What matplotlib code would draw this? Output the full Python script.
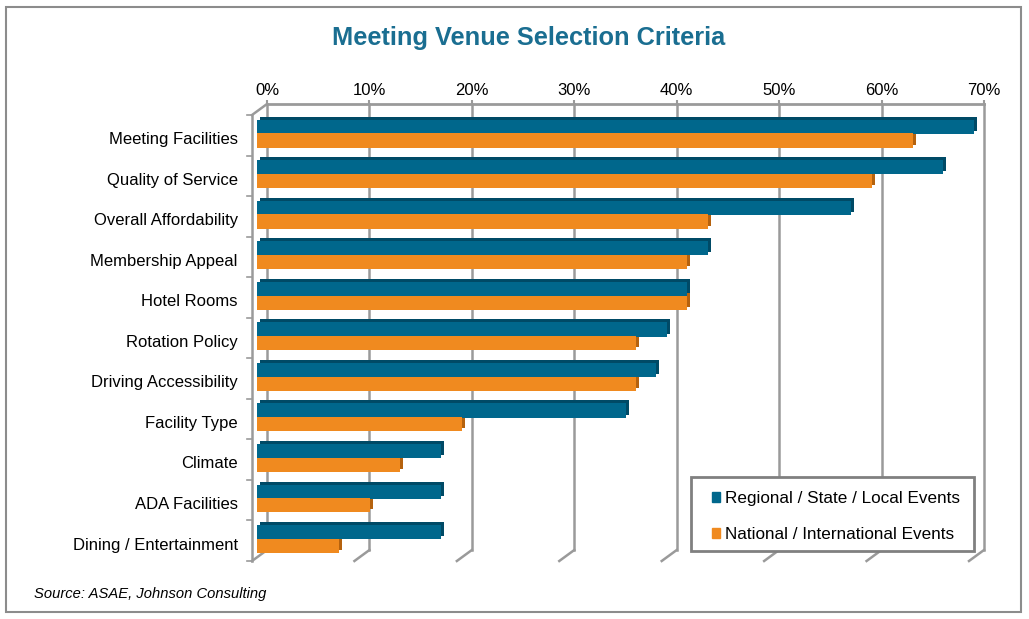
import numpy as np
import matplotlib.pyplot as plt
from matplotlib.patches import Rectangle, Patch

plt.rcParams['font.family'] = ['Liberation Sans', 'DejaVu Sans']

categories = ["Meeting Facilities", "Quality of Service", "Overall Affordability",
              "Membership Appeal", "Hotel Rooms", "Rotation Policy",
              "Driving Accessibility", "Facility Type", "Climate",
              "ADA Facilities", "Dining / Entertainment"]
regional = [70, 67, 58, 44, 42, 40, 39, 36, 18, 18, 18]
national = [64, 60, 44, 42, 42, 37, 37, 20, 14, 11, 8]
series_names = ["Regional / State / Local Events", "National / International Events"]
xticks = [0, 10, 20, 30, 40, 50, 60, 70]

BLUE, BLUE_DK = "#00678c", "#004a66"
ORANGE, ORANGE_DK = "#f08a1f", "#b5620e"
GRID = "#9a9a9a"

W, H = 1029, 619
fig = plt.figure(figsize=(W / 100, H / 100), dpi=100)

# back wall of the fake 3d plot
ax = fig.add_axes([267 / W, 1 - 550 / H, 717 / W, 446 / H])
ax.set_xlim(0, 70)
ax.set_ylim(10.5, -0.5)

px_x = 717 / 70.0      # pixels per percent
px_y = 446 / 11.0      # pixels per category
dep_x, dep_y = 15 / px_x, 11 / px_y   # depth of the floor / left wall

y = np.arange(len(categories))
y_blue = y + 0.06
y_orng = y + 0.40
h = 0.35
shift = 10 / px_x
sx, sy = 3 / px_x, 3 / px_y

# gridlines on back wall + slanted bits on the floor
for v in xticks:
    ax.plot([v, v], [-0.5, 10.5], color=GRID, lw=1.8, zorder=1, clip_on=False)
    ax.plot([v, v - dep_x], [10.5, 10.5 + dep_y], color=GRID, lw=1.8, zorder=1, clip_on=False)

# left front wall line with small ticks
xf = -dep_x
ax.plot([0, xf], [-0.5, -0.5 + dep_y], color=GRID, lw=1.8, clip_on=False)
ax.plot([xf, xf], [-0.5 + dep_y, 10.5 + dep_y], color=GRID, lw=1.8, clip_on=False)
for k in range(len(categories) + 1):
    yy = k - 0.5 + dep_y
    ax.plot([xf, xf - 5 / px_x], [yy, yy], color=GRID, lw=1.2, clip_on=False)

# dark side/top faces first, then fronts
ax.barh(y_blue - sy, regional, left=-shift + sx, height=h, color=BLUE_DK, zorder=2, clip_on=False)
ax.barh(y_orng - sy, national, left=-shift + sx, height=h, color=ORANGE_DK, zorder=2, clip_on=False)
ax.barh(y_blue, regional, left=-shift, height=h, color=BLUE, zorder=3, clip_on=False)
ax.barh(y_orng, national, left=-shift, height=h, color=ORANGE, zorder=3, clip_on=False)

for s in ["left", "right", "bottom"]:
    ax.spines[s].set_visible(False)
ax.spines["top"].set_color(GRID)
ax.spines["top"].set_linewidth(2)

ax.xaxis.tick_top()
ax.set_xticks(xticks, labels=[f"{v}%" for v in xticks])
ax.tick_params(axis="x", length=3, width=1.5, color=GRID, pad=1.5, labelsize=12)
ax.set_yticks(y + 0.34, labels=categories)
ax.tick_params(axis="y", length=0, pad=21, labelsize=12)

# legend box drawn by hand, legend itself without frame
fig.add_artist(Rectangle((691 / W, 1 - 551 / H), 283 / W, 74 / H, transform=fig.transFigure,
                         facecolor="white", edgecolor="#808080", lw=2, zorder=5))
handles = [Patch(color=BLUE), Patch(color=ORANGE)]
leg = fig.legend(handles, series_names, loc="center left",
                 bbox_to_anchor=(712 / W, 1 - 516.5 / H), fontsize=12.3,
                 handlelength=0.48, handleheight=0.48, handletextpad=0.3,
                 labelspacing=1.25, borderpad=0, borderaxespad=0, frameon=False)
leg.set_zorder(6)

fig.text(0.514, 1 - 38 / H, "Meeting Venue Selection Criteria", ha="center", va="center",
         fontsize=18.3, fontweight="bold", color="#1a6e91")
fig.text(34 / W, 1 - 594 / H, "Source: ASAE, Johnson Consulting", ha="left", va="center",
         fontsize=10.6, style="italic")

fig.add_artist(Rectangle((6 / W, 1 - 612 / H), 1015 / W, 605 / H, transform=fig.transFigure,
                         fill=False, edgecolor="#8c8c8c", lw=1.5))

fig.savefig("out.png", dpi=100)
